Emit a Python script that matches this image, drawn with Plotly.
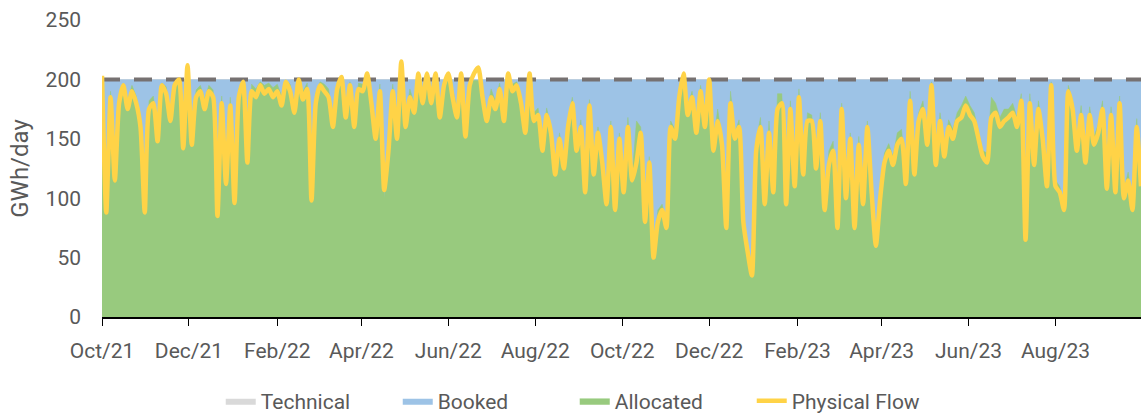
import pandas as pd
import plotly.graph_objects as go

start_date = "2021-10-01"

physical_flow = [
    203, 88, 185, 115, 180, 195, 175, 190, 180, 160, 88, 175, 180, 148, 195, 188, 165, 195, 200, 142,
    212, 145, 185, 190, 175, 190, 185, 85, 180, 112, 178, 96, 185, 198, 130, 190, 185, 195, 188, 192,
    185, 190, 178, 198, 190, 172, 200, 183, 192, 98, 180, 195, 190, 185, 160, 192, 202, 168, 195, 160,
    192, 190, 205, 180, 150, 190, 107, 140, 190, 150, 215, 160, 185, 172, 205, 180, 205, 180, 205, 168,
    195, 205, 185, 168, 205, 152, 195, 205, 210, 185, 165, 185, 175, 192, 165, 205, 190, 195, 180, 155,
    205, 165, 170, 140, 170, 155, 120, 150, 125, 160, 180, 140, 160, 105, 178, 120, 155, 130, 95, 160,
    90, 150, 105, 160, 115, 130, 155, 80, 130, 50, 80, 90, 75, 160, 150, 185, 205, 170, 185, 155,
    190, 160, 200, 140, 165, 145, 75, 180, 150, 160, 80, 55, 35, 140, 160, 95, 155, 105, 175, 180,
    95, 175, 110, 185, 120, 165, 165, 125, 165, 90, 128, 140, 75, 175, 100, 150, 75, 145, 95, 160,
    105, 60, 100, 130, 140, 128, 145, 150, 112, 182, 120, 165, 175, 145, 195, 128, 165, 135, 160, 150,
    165, 168, 178, 170, 165, 150, 135, 130, 168, 172, 160, 165, 168, 172, 160, 182, 65, 180, 128, 175,
    150, 110, 195, 110, 105, 90, 190, 175, 140, 170, 130, 170, 145, 155, 175, 108, 170, 105, 180, 100,
    115, 90, 160, 110,
]

allocated = [
    198, 95, 190, 122, 186, 197, 182, 195, 186, 168, 92, 182, 186, 156, 197, 194, 172, 197, 198, 150,
    199, 152, 191, 195, 183, 195, 191, 92, 186, 118, 185, 104, 192, 199, 138, 196, 192, 198, 195, 197,
    193, 196, 186, 199, 196, 180, 199, 190, 197, 105, 188, 198, 196, 192, 168, 197, 199, 176, 198, 168,
    197, 196, 199, 188, 158, 196, 100, 145, 196, 158, 199, 168, 192, 180, 199, 188, 199, 188, 199, 176,
    198, 199, 192, 176, 199, 158, 198, 199, 199, 192, 172, 192, 182, 197, 170, 199, 196, 198, 186, 160,
    199, 172, 176, 146, 176, 160, 125, 155, 130, 166, 185, 145, 166, 110, 183, 125, 160, 135, 100, 165,
    94, 155, 110, 168, 120, 165, 160, 85, 135, 55, 90, 95, 80, 165, 158, 190, 198, 178, 190, 162,
    195, 166, 198, 148, 175, 150, 80, 190, 155, 166, 85, 60, 40, 148, 168, 100, 165, 110, 188, 188,
    100, 182, 115, 192, 125, 172, 170, 130, 172, 95, 140, 148, 80, 180, 105, 155, 80, 152, 100, 165,
    110, 66, 110, 138, 146, 135, 155, 158, 118, 190, 128, 172, 182, 152, 198, 135, 172, 142, 166, 158,
    172, 178, 186, 178, 172, 156, 140, 138, 185, 180, 168, 175, 175, 180, 168, 188, 72, 188, 135, 182,
    158, 117, 198, 115, 110, 95, 195, 182, 148, 178, 136, 177, 152, 162, 182, 115, 177, 112, 186, 107,
    122, 96, 167, 116,
]

technical_dates = ["2021-10-01", "2023-09-30"]
technical = [200, 200]
booked_dates = ["2021-10-01", "2023-09-30"]
booked = [200, 200]

x_range = ["2021-10-01", "2023-09-30"]

dates = pd.date_range(start_date, periods=len(physical_flow), freq="3D")

FONT = "Roboto, Arial"
TXT = "#595959"

fig = go.Figure()
fig.add_trace(go.Scatter(x=technical_dates, y=technical, name="Technical", mode="lines",
                         fill="tozeroy", fillcolor="#D9D9D9", line=dict(width=0, color="#D9D9D9")))
fig.add_trace(go.Scatter(x=booked_dates, y=booked, name="Booked", mode="lines",
                         fill="tozeroy", fillcolor="#9DC3E6", line=dict(width=0, color="#9DC3E6")))
fig.add_trace(go.Scatter(x=dates, y=allocated, name="Allocated", mode="lines",
                         fill="tozeroy", fillcolor="#98CA7E", line=dict(width=0.5, color="#98CA7E")))
fig.add_trace(go.Scatter(x=technical_dates, y=technical, name="Technical line", mode="lines",
                         showlegend=False, line=dict(width=4, color="#767171", dash="18px,14px")))
fig.add_trace(go.Scatter(x=dates, y=physical_flow, name="Physical Flow", mode="lines",
                         line=dict(width=4.5, color="#FFD347", shape="spline", smoothing=0.6)))

fig.update_layout(
    width=1141, height=414,
    margin=dict(l=102, r=0, t=20, b=97, autoexpand=False),
    plot_bgcolor="white", paper_bgcolor="white",
    font=dict(family=FONT, size=21, color=TXT),
    showlegend=True,
    legend=dict(orientation="h", x=0.455, xanchor="center", y=-0.283, yanchor="middle",
                font=dict(size=21, color=TXT), itemwidth=30, traceorder="normal",
                entrywidth=132, entrywidthmode="pixels"),
    xaxis=dict(type="date", range=x_range, tickformat="%b/%y", dtick="M2", tick0="2021-10-01",
               ticks="outside", ticklen=7, tickcolor="black", showline=True, linecolor="black",
               linewidth=1.5, showgrid=False, tickfont=dict(size=21, color=TXT),
               ticklabelstandoff=7, automargin=False),
    yaxis=dict(range=[0, 250], dtick=50, showgrid=True, gridcolor="#D9D9D9", gridwidth=1,
               showline=False, zeroline=False, tickfont=dict(size=21, color=TXT),
               ticklabelstandoff=20, automargin=False,
               title=dict(text="GWh/day", font=dict(size=24, color=TXT), standoff=10)),
)

fig.write_html("out.html", config={"displayModeBar": False},
               post_script="document.body.style.margin='0';document.body.style.overflow='hidden';")
